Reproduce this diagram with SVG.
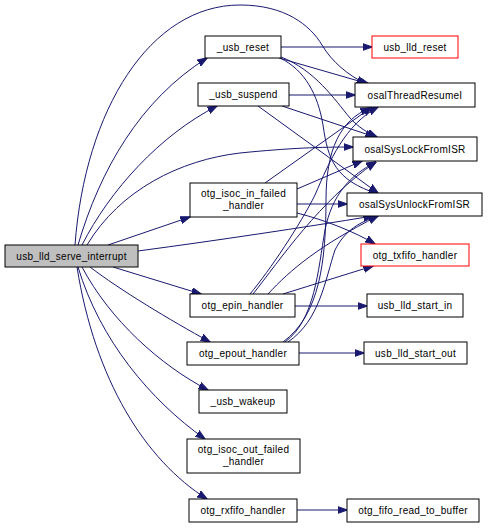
<svg xmlns="http://www.w3.org/2000/svg" width="488" height="528" viewBox="0 0 488 528">
<defs>
<marker id="a" markerWidth="10" markerHeight="8" refX="9.5" refY="4" orient="auto" markerUnits="userSpaceOnUse">
<path d="M0,0.5 L10,4 L0,7.5z" fill="#191970" stroke="#191970" stroke-width="1"/>
</marker>
<style>
.n rect{fill:#fff;stroke:#000;stroke-width:1}
.n.r rect{stroke:#ff0000}
.n.g rect{fill:#bfbfbf}
text{font-family:"Liberation Sans",Arial,sans-serif;font-size:10px;letter-spacing:0.28px;text-anchor:middle;fill:#000}
#edges path{fill:none;stroke:#191970;stroke-width:1;marker-end:url(#a)}
</style>
</defs>
<rect width="488" height="528" fill="#fff"/>
<g id="edges">
<path d="M75,245 C85,110 150,5 240,5 C285,5 310,25 322,45 C332,62 348,75 366,84"/>
<path d="M78,245 C100,170 140,100 207,58"/>
<path d="M82,245 C110,190 160,135 217,106"/>
<path d="M87,245 C120,190 180,160 240,153 C290,148 320,147 353,147"/>
<path d="M108,245 L190,217"/>
<path d="M138,251 C220,240 300,228 373,216"/>
<path d="M113,267 L201,294"/>
<path d="M90,267 C120,290 170,320 210,342"/>
<path d="M82,267 C110,320 160,365 208,390"/>
<path d="M78,267 C100,340 150,400 205,439"/>
<path d="M77,267 C95,380 145,460 207,499"/>
<path d="M281,47 L372,47"/>
<path d="M279,58 L369,84"/>
<path d="M281,57 C315,70 335,100 350,118 C358,127 368,133 377,137"/>
<path d="M280,58 C305,70 318,95 323,125 C328,160 335,180 378,194"/>
<path d="M289,95 L355,95"/>
<path d="M282,106 L375,137"/>
<path d="M258,106 L378,193"/>
<path d="M265,183 L372,107"/>
<path d="M297,189 L362,161"/>
<path d="M297,204 L347,204"/>
<path d="M297,213 C325,220 355,232 375,244"/>
<path d="M250,294 C270,270 300,225 315,195 C330,160 345,125 378,107"/>
<path d="M253,294 C280,260 320,200 376,162"/>
<path d="M268,294 C290,270 320,245 378,216"/>
<path d="M283,294 L373,266"/>
<path d="M295,306 L367,306"/>
<path d="M283,342 C320,315 326,260 326,200 C326,150 340,120 370,108"/>
<path d="M285,342 C315,320 318,270 325,230 C332,195 350,175 376,162"/>
<path d="M288,342 C320,320 325,280 335,250 C345,230 360,222 378,216"/>
<path d="M299,353 L364,353"/>
<path d="M297,510 L347,510"/>
</g>
<g id="usb_lld_serve_interrupt" class="n g"><rect x="5" y="245" width="133" height="22"/><text x="71.5" y="259.5">usb_lld_serve_interrupt</text></g>
<g id="_usb_reset" class="n"><rect x="205" y="36" width="76" height="22"/><text x="243" y="50.5">_usb_reset</text></g>
<g id="_usb_suspend" class="n"><rect x="198" y="83" width="91" height="23"/><text x="243.5" y="98">_usb_suspend</text></g>
<g id="otg_isoc_in_failed_handler" class="n"><rect x="190" y="183" width="107" height="34"/><text x="243.5" y="197">otg_isoc_in_failed</text><text x="243.5" y="209">_handler</text></g>
<g id="otg_epin_handler" class="n"><rect x="190" y="294" width="105" height="23"/><text x="242.5" y="309">otg_epin_handler</text></g>
<g id="otg_epout_handler" class="n"><rect x="187" y="342" width="112" height="23"/><text x="243" y="357">otg_epout_handler</text></g>
<g id="_usb_wakeup" class="n"><rect x="199" y="390" width="88" height="23"/><text x="243" y="405">_usb_wakeup</text></g>
<g id="otg_isoc_out_failed_handler" class="n"><rect x="187" y="439" width="113" height="34"/><text x="243.5" y="453">otg_isoc_out_failed</text><text x="243.5" y="465">_handler</text></g>
<g id="otg_rxfifo_handler" class="n"><rect x="189" y="499" width="108" height="23"/><text x="243" y="514">otg_rxfifo_handler</text></g>
<g id="usb_lld_reset" class="n r"><rect x="372" y="36" width="86" height="22"/><text x="415" y="50.5">usb_lld_reset</text></g>
<g id="osalThreadResumeI" class="n"><rect x="355" y="83" width="120" height="24"/><text x="415" y="98.5">osalThreadResumeI</text></g>
<g id="osalSysLockFromISR" class="n"><rect x="353" y="137" width="124" height="24"/><text x="415" y="152.5">osalSysLockFromISR</text></g>
<g id="osalSysUnlockFromISR" class="n"><rect x="347" y="193" width="135" height="23"/><text x="414.5" y="208">osalSysUnlockFromISR</text></g>
<g id="otg_txfifo_handler" class="n r"><rect x="361" y="244" width="108" height="22"/><text x="415" y="258.5">otg_txfifo_handler</text></g>
<g id="usb_lld_start_in" class="n"><rect x="367" y="294" width="96" height="23"/><text x="415" y="309">usb_lld_start_in</text></g>
<g id="usb_lld_start_out" class="n"><rect x="364" y="342" width="103" height="22"/><text x="415.5" y="356.5">usb_lld_start_out</text></g>
<g id="otg_fifo_read_to_buffer" class="n"><rect x="347" y="499" width="132" height="23"/><text x="413" y="514">otg_fifo_read_to_buffer</text></g>
</svg>
